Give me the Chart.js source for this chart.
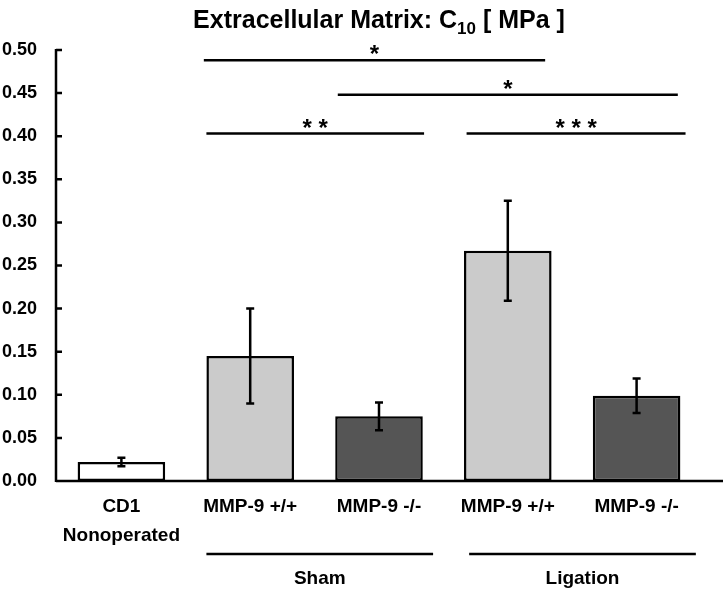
<!DOCTYPE html>
<html>
<head>
<meta charset="utf-8">
<script src="https://cdn.jsdelivr.net/npm/chart.js@4"></script>
<style>
  html, body { margin: 0; padding: 0; background: #fff; }
  #wrap { width: 724px; height: 591px; }
</style>
</head>
<body>
<div id="wrap"><canvas id="myChart" width="724" height="591"></canvas></div>
<script>
// data
var categories = [["CD1", "Nonoperated"], "MMP-9 +/+", "MMP-9 -/-", "MMP-9 +/+", "MMP-9 -/-"];
var means = [0.022, 0.145, 0.075, 0.267, 0.099];
var errors = [0.005, 0.055, 0.016, 0.058, 0.020];
var barColors = ["#ffffff", "#cbcbcb", "#555555", "#cbcbcb", "#555555"];
var yTicks = [0, 0.05, 0.10, 0.15, 0.20, 0.25, 0.30, 0.35, 0.40, 0.45, 0.50];

// group lines under the axis (category index units)
var groupNames = ["Sham", "Ligation"];
var groupFrom = [0.66, 2.70];
var groupTo = [2.42, 4.46];

// significance bars
var sigFrom = [0.64, 1.68, 0.66, 2.68];
var sigTo = [3.29, 4.32, 2.35, 4.38];
var sigY = [0.488, 0.448, 0.403, 0.403];
var sigLabel = ["*", "*", "* *", "* * *"];

var FONT = "'Liberation Sans', Arial, sans-serif";

var extras = {
  id: "extras",
  afterDatasetsDraw: function (chart) {
    var ctx = chart.ctx;
    var x = chart.scales.x, y = chart.scales.y;
    var area = chart.chartArea;
    ctx.save();
    ctx.strokeStyle = "#000";
    ctx.fillStyle = "#000";
    ctx.lineWidth = 2.5;

    // error bars
    var meta = chart.getDatasetMeta(0);
    for (var i = 0; i < means.length; i++) {
      var cx = meta.data[i].x;
      var top = y.getPixelForValue(means[i] + errors[i]);
      var bot = y.getPixelForValue(means[i] - errors[i]);
      ctx.beginPath();
      ctx.moveTo(cx, top); ctx.lineTo(cx, bot);
      ctx.moveTo(cx - 4, top); ctx.lineTo(cx + 4, top);
      ctx.moveTo(cx - 4, bot); ctx.lineTo(cx + 4, bot);
      ctx.stroke();
    }

    // axis lines and inward ticks
    ctx.beginPath();
    ctx.moveTo(area.left - 1, area.bottom);
    ctx.lineTo(chart.width - 1, area.bottom);
    ctx.moveTo(area.left - 1, area.top - 1);
    ctx.lineTo(area.left - 1, area.bottom + 1);
    for (var t = 0; t < yTicks.length; t++) {
      var py = y.getPixelForValue(yTicks[t]);
      ctx.moveTo(area.left - 1, py);
      ctx.lineTo(area.left + 5, py);
    }
    ctx.stroke();

    // significance lines
    ctx.font = "bold 24px " + FONT;
    ctx.textAlign = "center";
    ctx.textBaseline = "alphabetic";
    for (var s = 0; s < sigFrom.length; s++) {
      var x1 = x.getPixelForValue(sigFrom[s]);
      var x2 = x.getPixelForValue(sigTo[s]);
      var sy = y.getPixelForValue(sigY[s]);
      ctx.beginPath();
      ctx.moveTo(x1, sy); ctx.lineTo(x2, sy);
      ctx.stroke();
      ctx.fillText(sigLabel[s], (x1 + x2) / 2, sy + 2);
    }

    // group lines + names
    ctx.font = "bold 19px " + FONT;
    ctx.textBaseline = "middle";
    for (var g = 0; g < groupNames.length; g++) {
      var g1 = x.getPixelForValue(groupFrom[g]);
      var g2 = x.getPixelForValue(groupTo[g]);
      ctx.beginPath();
      ctx.moveTo(g1, 554); ctx.lineTo(g2, 554);
      ctx.stroke();
      ctx.fillText(groupNames[g], (g1 + g2) / 2, 579);
    }

    // title with subscript
    var t1 = "Extracellular Matrix: C", sub = "10", t2 = " [ MPa ]";
    ctx.font = "bold 25px " + FONT;
    var w1 = ctx.measureText(t1).width, w2 = ctx.measureText(t2).width;
    ctx.font = "bold 17px " + FONT;
    var ws = ctx.measureText(sub).width;
    var start = (area.left + area.right) / 2 - (w1 + ws + w2) / 2;
    ctx.textAlign = "left";
    ctx.textBaseline = "alphabetic";
    ctx.font = "bold 25px " + FONT;
    ctx.fillText(t1, start, 28);
    ctx.font = "bold 17px " + FONT;
    ctx.fillText(sub, start + w1, 34);
    ctx.font = "bold 25px " + FONT;
    ctx.fillText(t2, start + w1 + ws, 28);
    ctx.restore();
  }
};

new Chart("myChart", {
  type: "bar",
  data: {
    labels: categories,
    datasets: [{
      data: means,
      backgroundColor: barColors,
      borderColor: "#000",
      borderWidth: 2.5,
      borderSkipped: false,
      barPercentage: 0.68,
      categoryPercentage: 1.0
    }]
  },
  plugins: [extras],
  options: {
    responsive: false,
    animation: false,
    layout: { padding: { top: 50, right: 23, left: 0, bottom: 0 } },
    plugins: {
      legend: { display: false },
      title: { display: false },
      tooltip: { enabled: false }
    },
    scales: {
      x: {
        grid: { display: false, drawTicks: false },
        border: { display: false },
        ticks: {
          color: "#000",
          padding: 12,
          font: { family: FONT, size: 19, weight: "bold", lineHeight: 1.5 }
        },
        afterFit: function (scale) { scale.height = 110; }
      },
      y: {
        min: 0,
        max: 0.5,
        grid: { display: false, drawTicks: false },
        border: { display: false },
        afterBuildTicks: function (scale) {
          scale.ticks = yTicks.map(function (v) { return { value: v }; });
        },
        ticks: {
          color: "#000",
          padding: 20,
          font: { family: FONT, size: 18, weight: "bold" },
          callback: function (v) { return v.toFixed(2); }
        },
        afterFit: function (scale) { scale.width = 57; }
      }
    }
  }
});
</script>
</body>
</html>
